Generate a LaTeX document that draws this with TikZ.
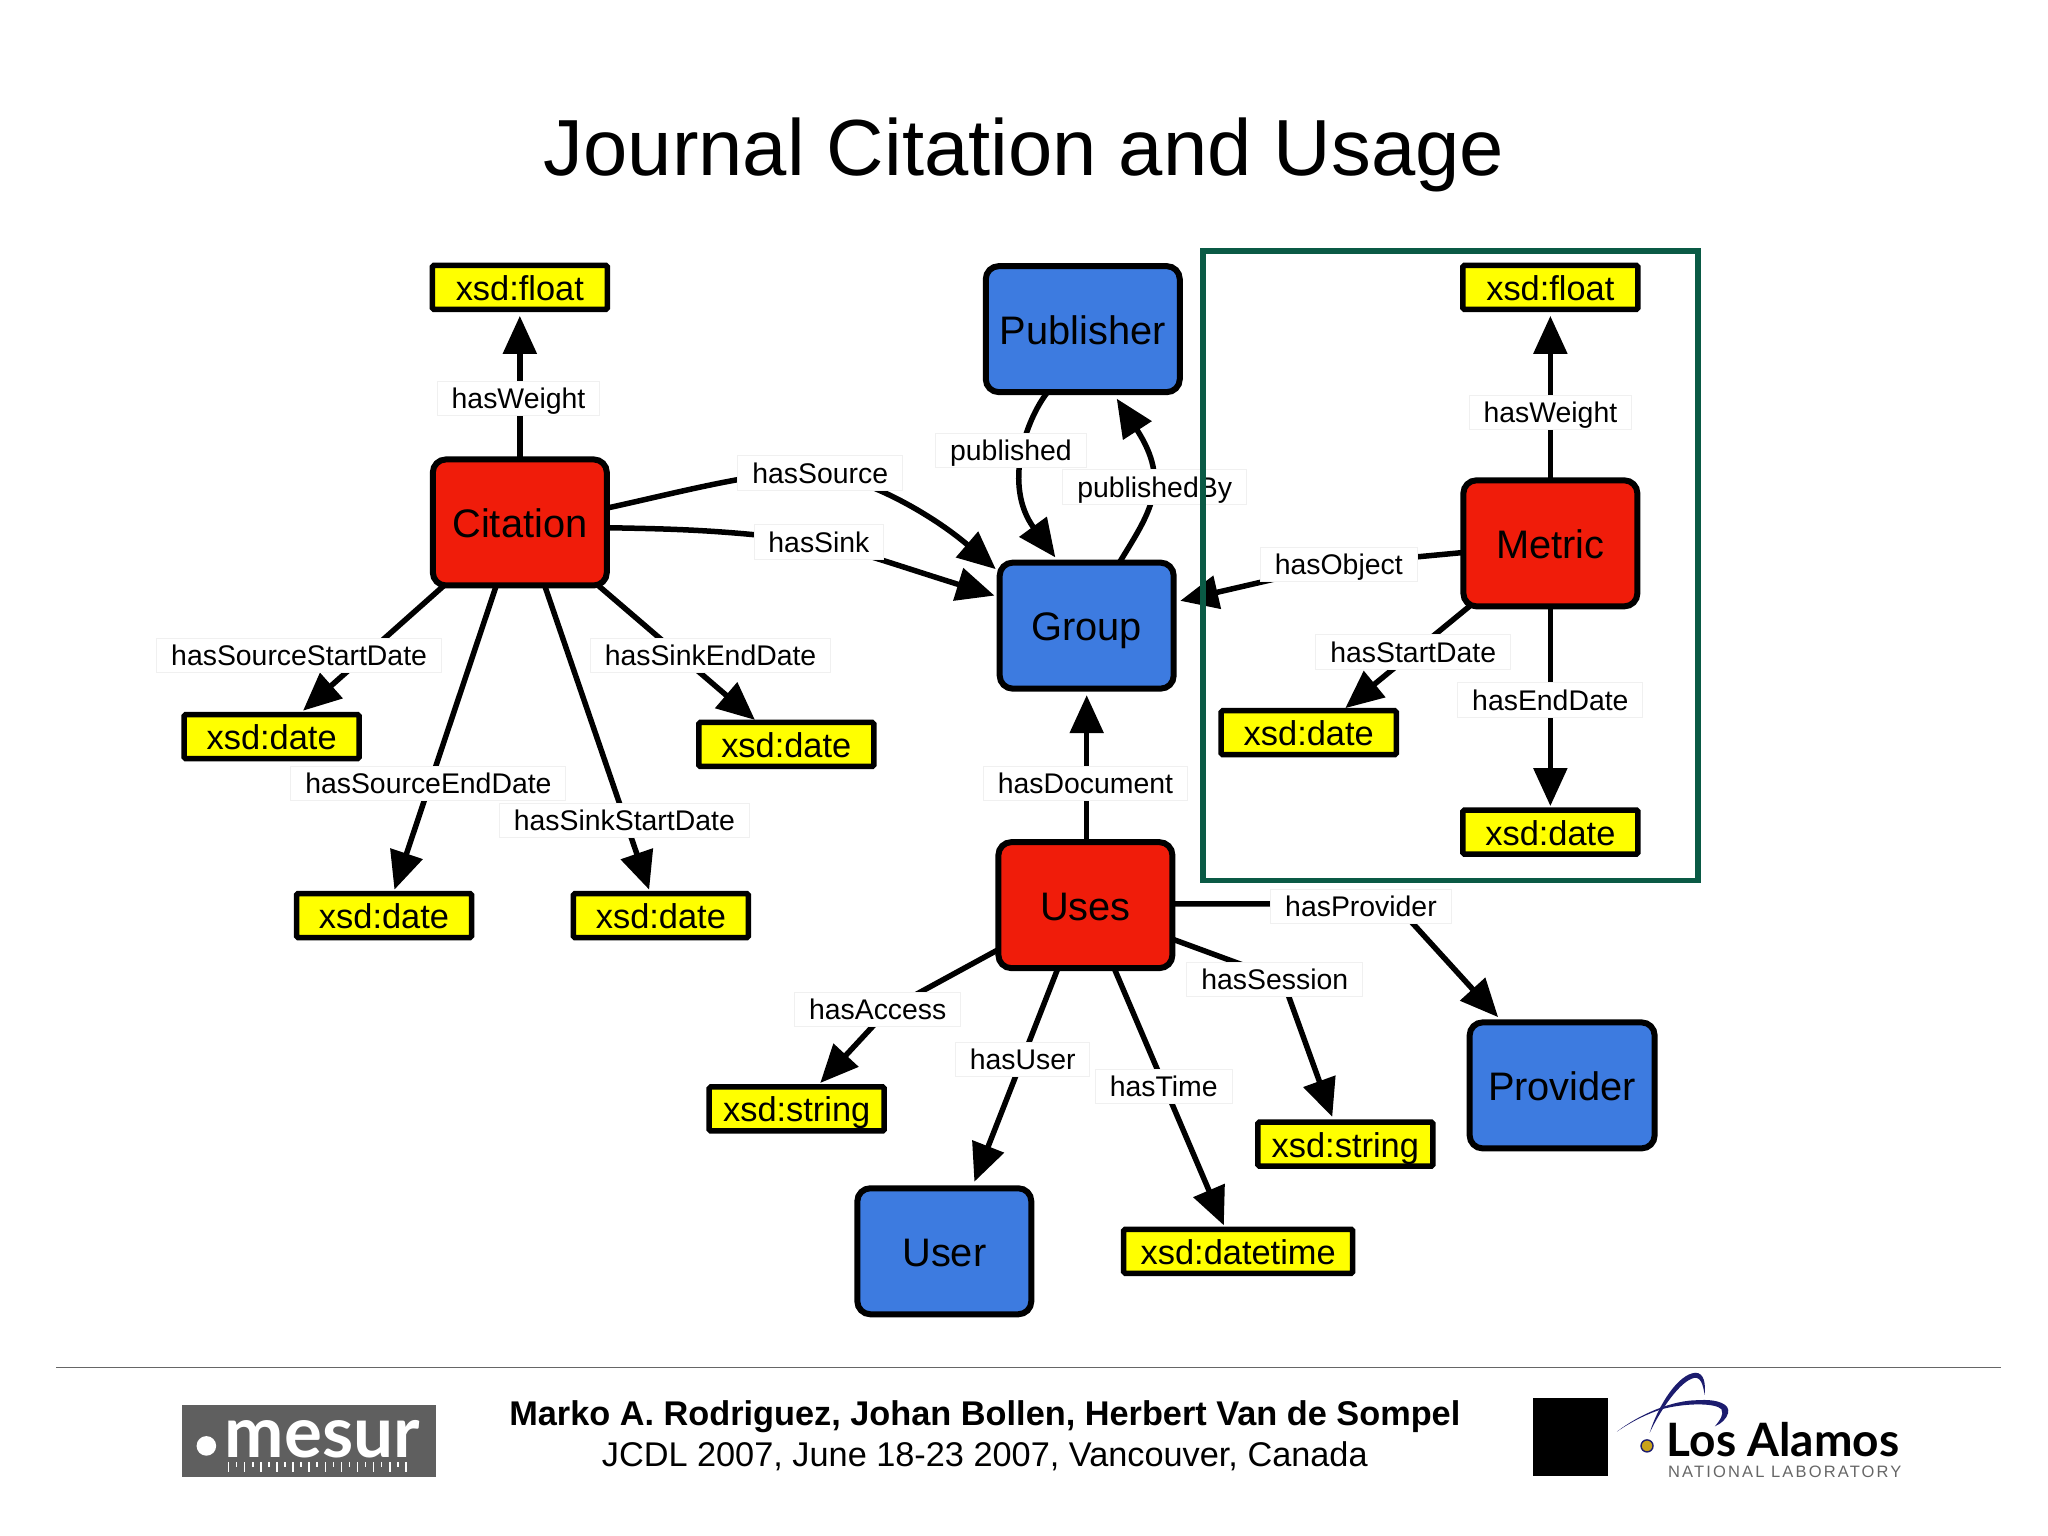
\documentclass[tikz,border=0pt]{standalone}
\usepackage{fontspec}
\setmainfont{Liberation Sans}
\newfontfamily\logofont{Lato}
\newfontfamily\spacedfont[LetterSpace=13]{Liberation Sans}
\usetikzlibrary{arrows.meta,backgrounds}
\definecolor{nodered}{HTML}{F01C0A}
\definecolor{nodeblue}{HTML}{3D7BE0}
\definecolor{nodeyellow}{HTML}{FFFF00}
\definecolor{framegreen}{HTML}{0A5A45}
\definecolor{logogray}{HTML}{5F5F5F}
\definecolor{logonavy}{HTML}{1C1C6E}
\definecolor{logogold}{HTML}{C9A21A}
\tikzset{
  x=1.30612pt,y=-1.30612pt,
  bignode/.style={draw=black,line width=6pt,rounded corners=13pt,minimum width=174pt,minimum height=126pt,inner sep=0pt,outer sep=0pt,
    font=\fontsize{39.8}{44}\selectfont,text height=33pt,text depth=3pt,text=black},
  rednode/.style={bignode,fill=nodered},
  bluenode/.style={bignode,fill=nodeblue},
  typebox/.style={draw=black,line width=5.5pt,fill=nodeyellow,rounded corners=1.5pt,minimum width=175pt,minimum height=44pt,inner sep=0pt,outer sep=0pt,
    font=\fontsize{34.4}{40}\selectfont,text height=28pt,text depth=2pt},
  edgelabel/.style={draw=black!6,line width=1pt,fill=white,inner xsep=14.4pt,inner ysep=3.5pt,outer sep=0pt,
    font=\fontsize{28.4}{34}\selectfont,text height=24pt,text depth=3.5pt},
  edgeline/.style={draw=black,line width=5.5pt,-{Triangle[length=38pt,width=33pt]}},
}
\begin{document}
\begin{tikzpicture}
\useasboundingbox (0,0) rectangle (1568,1176);
% title
\node[font=\fontsize{79.6}{90}\selectfont,inner sep=0pt] (title) at (784,118.5) {Journal Citation and Usage};
% concepts
\node[rednode] (citation) at (398,400) {Citation};
\node[bluenode,minimum width=194pt] (publisher) at (829,252) {Publisher};
\node[bluenode] (group) at (832,479) {Group};
\node[rednode] (metric) at (1187,416) {Metric};
\node[rednode] (uses) at (831,693) {Uses};
\node[bluenode,minimum width=185pt] (provider) at (1196,831) {Provider};
\node[bluenode] (user) at (723,958) {User};
% literals
\node[typebox] (floatA) at (398,220) {xsd:float};
\node[typebox] (floatB) at (1187,220) {xsd:float};
\node[typebox] (dateSS) at (208,564) {xsd:date};
\node[typebox] (dateKE) at (602,570) {xsd:date};
\node[typebox] (dateSE) at (294,701) {xsd:date};
\node[typebox] (dateKS) at (506,701) {xsd:date};
\node[typebox] (dateMS) at (1002,561) {xsd:date};
\node[typebox] (dateME) at (1187,637) {xsd:date};
\node[typebox] (stringA) at (610,849) {xsd:string};
\node[typebox] (stringS) at (1030,876) {xsd:string};
\node[typebox,minimum width=229pt] (datetime) at (948,958) {xsd:datetime};
% labels
\node[edgelabel] (lWeightA) at (397,305) {hasWeight};
\node[edgelabel] (lSource) at (628,362) {hasSource};
\node[edgelabel] (lSink) at (627,415) {hasSink};
\node[edgelabel] (lSSD) at (229,502) {hasSourceStartDate};
\node[edgelabel] (lSED) at (328,600) {hasSourceEndDate};
\node[edgelabel] (lKSD) at (478,628) {hasSinkStartDate};
\node[edgelabel] (lKED) at (544,502) {hasSinkEndDate};
\node[edgelabel] (lPub) at (774,345) {published};
\node[edgelabel] (lPubBy) at (884,373) {publishedBy};
\node[edgelabel] (lObject) at (1025,432) {hasObject};
\node[edgelabel] (lWeightB) at (1187,316) {hasWeight};
\node[edgelabel] (lStart) at (1082,499) {hasStartDate};
\node[edgelabel] (lEnd) at (1187,536) {hasEndDate};
\node[edgelabel] (lDoc) at (831,600) {hasDocument};
\node[edgelabel] (lProv) at (1042,694) {hasProvider};
\node[edgelabel] (lSess) at (976,750) {hasSession};
\node[edgelabel] (lAcc) at (672,773) {hasAccess};
\node[edgelabel] (lUser) at (783,811) {hasUser};
\node[edgelabel] (lTime) at (891,832) {hasTime};
% connectors
\begin{pgfonlayer}{background}
\draw[edgeline] (citation.north) -- ([shift={(0,5)}]floatA.south);
\draw[edgeline] ([shift={(0,-11)}]citation.east) .. controls (520,377) and (590,358) .. (lSource.center) .. controls (665,366) and (715,395) .. ([shift={(-3,5)}]group.north west);
\draw[edgeline] ([shift={(0,4)}]citation.east) .. controls (510,405) and (550,405) .. (lSink.center) .. controls (650,420) and (700,437) .. ([shift={(-4,-23)}]group.west);
\draw[edgeline] ([shift={(-58,0)}]citation.south) -- ([shift={(24,-3)}]dateSS.north);
\draw[edgeline] ([shift={(-18,0)}]citation.south) -- ([shift={(8,-3)}]dateSE.north);
\draw[edgeline] ([shift={(19,0)}]citation.south) -- ([shift={(-9,-3)}]dateKS.north);
\draw[edgeline] ([shift={(60,0)}]citation.south) -- ([shift={(-24,-2)}]dateKE.north);
\draw[edgeline] ([shift={(-27,0)}]publisher.south) .. controls (785,322) and (768,372) .. ([shift={(-24,-4)}]group.north);
\draw[edgeline] ([shift={(25,0)}]group.north) .. controls (880,393) and (897,370) .. ([shift={(26,5)}]publisher.south);
\draw[edgeline] ([shift={(0,7)}]metric.west) -- (lObject.center) -- ([shift={(5,-19)}]group.east);
\draw[edgeline] (metric.north) -- ([shift={(0,5)}]floatB.south);
\draw[edgeline] ([shift={(-62,0)}]metric.south) -- ([shift={(28,-2)}]dateMS.north);
\draw[edgeline] (metric.south) -- ([shift={(0,-3)}]dateME.north);
\draw[edgeline] ([shift={(1,0)}]uses.north) -- ([shift={(0,5)}]group.south);
\draw[edgeline] ([shift={(0,-1)}]uses.east) -- ([shift={(26,-2)}]lProv.center) -- ([shift={(-49,-4)}]provider.north);
\draw[edgeline] ([shift={(0,26)}]uses.east) -- ([shift={(6,0)}]lSess.center) -- ([shift={(-10,-4)}]stringS.north);
\draw[edgeline] ([shift={(0,34)}]uses.west) -- ([shift={(8,0)}]lAcc.center) -- ([shift={(18,-3)}]stringA.north);
\draw[edgeline] ([shift={(-21,0)}]uses.south) -- ([shift={(23,-5)}]user.north);
\draw[edgeline] ([shift={(22,0)}]uses.south) -- ([shift={(-11,-3)}]datetime.north);
\end{pgfonlayer}
% green frame
\draw[draw=framegreen,line width=5.5pt] (921,192) rectangle (1300,674);
% footer
\draw[draw=black!60,line width=1.8pt] (43,1047) -- (1532,1047);
\node[font=\fontsize{34.3}{38}\selectfont\bfseries,inner sep=0pt] (authors) at (754,1084.5) {Marko A. Rodriguez, Johan Bollen, Herbert Van de Sompel};
\node[font=\fontsize{34.3}{38}\selectfont,inner sep=0pt] (venue) at (754,1115) {JCDL 2007, June 18-23 2007, Vancouver, Canada};
% MESUR logo
\fill[logogray] (139.3,1076) rectangle (334,1130.5);
\fill[white] (158,1107) ellipse [x radius=7.5,y radius=7.5];
\node[anchor=base west,inner sep=0pt,text=white,font=\fontsize{71}{73}\selectfont\logofont\bfseries] (mesur) at (172,1116) {mesur};
\foreach \i in {0,...,22}{
  \pgfmathsetmacro{\tx}{175+6.17*\i}
  \pgfmathsetmacro{\ty}{isodd(\i)?1123:1127}
  \draw[white,line width=1.5pt] (\tx,1119.5) -- (\tx,\ty);
}
% Los Alamos logo
\fill[black] (1174,1070) rectangle (1231,1130);
\fill[logonavy] (1263,1097) .. controls (1270,1075) and (1285,1052) .. (1298,1051) .. controls (1305,1051) and (1306,1060) .. (1305,1068) .. controls (1304,1060) and (1302,1054) .. (1297,1055) .. controls (1287,1057) and (1272,1078) .. (1263,1097) -- cycle;
\fill[logonavy] (1238,1096) .. controls (1255,1083) and (1280,1072) .. (1300,1072) .. controls (1315,1071) and (1325,1075) .. (1323,1082) .. controls (1322,1086) and (1318,1090) .. (1313,1092) .. controls (1317,1087) and (1320,1083) .. (1318,1079) .. controls (1314,1074) and (1290,1074) .. (1272,1079) .. controls (1260,1083) and (1250,1088) .. (1238,1096) -- cycle;
\fill[logogold,draw=logonavy,line width=1.4pt] (1261,1107) circle [radius=4.6];
\node[anchor=base west,inner sep=0pt,text=black,font=\fontsize{46}{48}\selectfont\logofont\bfseries] (losalamos) at (1276,1115.5) {Los Alamos};
\node[anchor=base west,inner sep=0pt,text=black!60,font=\fontsize{16.5}{18}\selectfont\spacedfont] (natlab) at (1277,1131) {NATIONAL LABORATORY};
\end{tikzpicture}
\end{document}
